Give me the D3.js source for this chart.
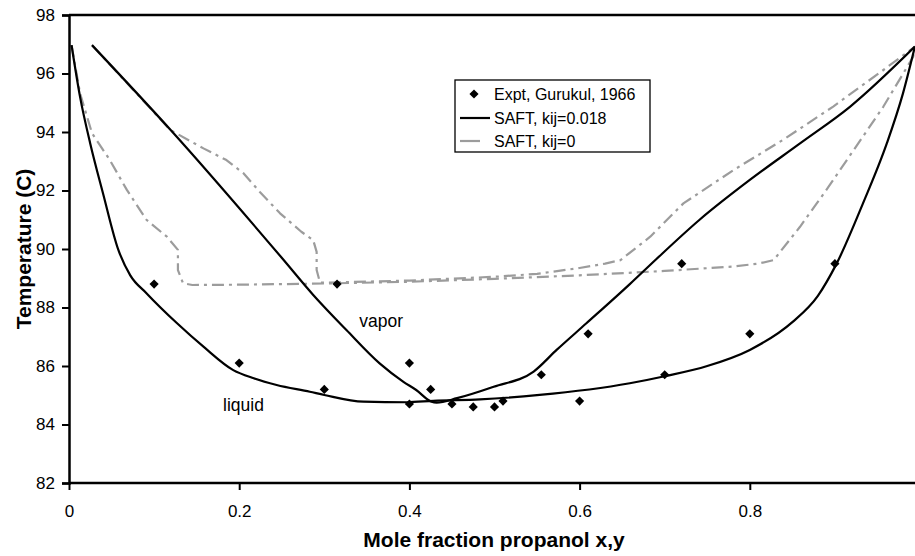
<!DOCTYPE html>
<html>
<head>
<meta charset="utf-8">
<script src="https://cdn.jsdelivr.net/npm/d3@7"></script>
<style>
  html, body { margin: 0; padding: 0; background: #fff; }
  svg { display: block; font-family: "Liberation Sans", Arial, sans-serif; }
</style>
</head>
<body>
<svg id="chart" width="915" height="556"></svg>
<script>
// ---------------- data ----------------
const xTicks = [0, 0.2, 0.4, 0.6, 0.8];
const yTicks = [82, 84, 86, 88, 90, 92, 94, 96, 98];

// Experimental points (Gurukul, 1966)
const exptX = [0.10, 0.20, 0.30, 0.40, 0.475, 0.51, 0.555, 0.61, 0.72,
               0.315, 0.40, 0.425, 0.45, 0.50, 0.60, 0.70, 0.80, 0.90];
const exptT = [88.8, 86.1, 85.2, 84.7, 84.6, 84.8, 85.7, 87.1, 89.5,
               88.8, 86.1, 85.2, 84.7, 84.6, 84.8, 85.7, 87.1, 89.5];

// SAFT kij=0.018, liquid branch
const liqX018 = [0.003, 0.013, 0.025, 0.040, 0.058, 0.072, 0.091, 0.127, 0.158, 0.193, 0.217,
                 0.244, 0.283, 0.300, 0.346, 0.397, 0.428, 0.483, 0.553, 0.659, 0.700, 0.750,
                 0.800, 0.850, 0.880, 0.902, 0.933, 0.961, 0.980, 0.994];
const liqT018 = [96.97, 95.2, 93.6, 91.9, 89.97, 89.1, 88.49, 87.46, 86.66, 85.86, 85.58,
                 85.35, 85.12, 85.01, 84.78, 84.76, 84.81, 84.86, 85.01, 85.41, 85.65, 86.0,
                 86.55, 87.5, 88.4, 89.5, 91.56, 93.61, 95.32, 96.92];
// SAFT kij=0.018, vapor branch
const vapX018 = [0.027, 0.120, 0.250, 0.287, 0.326, 0.365, 0.393, 0.408, 0.426, 0.432, 0.456,
                 0.499, 0.546, 0.573, 0.608, 0.659, 0.690, 0.741, 0.800, 0.859, 0.918, 0.994];
const vapT018 = [96.97, 94.05, 89.7, 88.43, 87.23, 86.09, 85.46, 85.18, 84.78, 84.75, 84.9,
                 85.29, 85.81, 86.55, 87.46, 88.8, 89.65, 91.0, 92.36, 93.61, 94.87, 96.92];

// SAFT kij=0, liquid branch
const liqX0 = [0.003, 0.013, 0.027, 0.048, 0.068, 0.091, 0.115, 0.128, 0.128, 0.134, 0.145,
               0.20, 0.30, 0.40, 0.50, 0.60, 0.70, 0.78, 0.81, 0.828, 0.859, 0.890, 0.922,
               0.957, 0.992, 0.994];
const liqT0 = [96.97, 95.32, 93.96, 93.04, 92.02, 91.0, 90.42, 89.97, 89.28, 88.83, 88.77,
               88.78, 88.82, 88.88, 88.98, 89.1, 89.25, 89.4, 89.5, 89.62, 90.76, 92.02, 93.38,
               94.87, 96.57, 96.92];
// SAFT kij=0, vapor branch
const vapX0 = [0.027, 0.119, 0.158, 0.185, 0.205, 0.224, 0.248, 0.273, 0.287, 0.291, 0.291,
               0.295, 0.30, 0.40, 0.50, 0.55, 0.60, 0.63, 0.648, 0.683, 0.722, 0.781, 0.839,
               0.898, 0.957, 0.994];
const vapT0 = [96.97, 94.07, 93.44, 93.04, 92.59, 91.96, 91.22, 90.59, 90.3, 89.9, 89.28,
               88.85, 88.85, 88.92, 89.05, 89.15, 89.35, 89.5, 89.62, 90.42, 91.56, 92.7, 93.73,
               94.87, 96.12, 96.92];

const legendLabels = ["Expt, Gurukul, 1966", "SAFT, kij=0.018", "SAFT, kij=0"];
const annotations = [{text: "vapor", x: 0.341, t: 87.35}, {text: "liquid", x: 0.181, t: 84.47}];

// ---------------- drawing ----------------
const svg = d3.select("#chart");
const x = d3.scaleLinear().domain([0, 1]).range([69, 920]);
const y = d3.scaleLinear().domain([82, 98]).range([483, 15]);

svg.append("rect").attr("width", 915).attr("height", 556).attr("fill", "#fff");

const lineLin = d3.line().x(d => x(d[0])).y(d => y(d[1])).curve(d3.curveLinear);
const lineSmooth = d3.line().x(d => x(d[0])).y(d => y(d[1])).curve(d3.curveMonotoneX);
const zip = (a, b) => a.map((v, i) => [v, b[i]]);

// kij=0 (gray dash-dot)
[[liqX0, liqT0], [vapX0, vapT0]].forEach(([xs, ts]) => {
  svg.append("path").datum(zip(xs, ts))
    .attr("d", lineLin).attr("fill", "none")
    .attr("stroke", "#9c9c9c").attr("stroke-width", 2.2)
    .attr("stroke-dasharray", "12,5,3,5")
    .attr("stroke-linejoin", "round");
});
// kij=0.018 (black solid)
[[liqX018, liqT018], [vapX018, vapT018]].forEach(([xs, ts]) => {
  svg.append("path").datum(zip(xs, ts))
    .attr("d", lineSmooth).attr("fill", "none")
    .attr("stroke", "#000").attr("stroke-width", 2.2)
    .attr("stroke-linejoin", "round");
});

// axes
const gx = svg.append("g").attr("transform", `translate(0,${y(82)})`)
  .call(d3.axisBottom(x).tickValues(xTicks).tickSize(7).tickPadding(15)
        .tickFormat(d => d === 0 ? "0" : d3.format(".1f")(d)));
const gy = svg.append("g").attr("transform", `translate(${x(0)},0)`)
  .call(d3.axisLeft(y).tickValues(yTicks).tickSize(7).tickPadding(7));
[gx, gy].forEach(g => {
  g.select(".domain").attr("stroke", "#000").attr("stroke-width", 2.5);
  g.selectAll(".tick line").attr("stroke", "#000").attr("stroke-width", 2);
  g.selectAll(".tick text").attr("fill", "#000").style("font-size", "17px")
    .style("font-family", "'Liberation Sans', Arial, sans-serif");
});
gx.select(".domain").attr("d", `M${x(0)},0H915`);
// top border
svg.append("line").attr("x1", x(0)).attr("x2", 915).attr("y1", y(98)).attr("y2", y(98))
  .attr("stroke", "#000").attr("stroke-width", 2.5);

// experimental diamonds
const diamond = d3.symbol().type(d3.symbolSquare).size(42);
svg.append("g").selectAll("path").data(zip(exptX, exptT)).join("path")
  .attr("d", diamond)
  .attr("transform", d => `translate(${x(d[0])},${y(d[1])}) rotate(45)`)
  .attr("fill", "#000");

// annotations
svg.selectAll("text.ann").data(annotations).join("text").attr("class", "ann")
  .attr("x", d => x(d.x)).attr("y", d => y(d.t))
  .style("font-size", "17.5px").attr("fill", "#000").text(d => d.text);

// axis titles
svg.append("text").attr("x", 494).attr("y", 547).attr("text-anchor", "middle")
  .style("font-size", "21px").style("font-weight", "bold")
  .text("Mole fraction propanol x,y");
svg.append("text").attr("transform", "translate(31,249) rotate(-90)")
  .attr("text-anchor", "middle")
  .style("font-size", "21px").style("font-weight", "bold")
  .text("Temperature (C)");

// legend
const lg = svg.append("g");
lg.append("rect").attr("x", 455).attr("y", 80).attr("width", 195).attr("height", 72)
  .attr("fill", "#fff").attr("stroke", "#000").attr("stroke-width", 1.3);
const rowY = [94, 118, 141];
lg.append("path").attr("d", diamond)
  .attr("transform", `translate(474,${rowY[0]}) rotate(45)`).attr("fill", "#000");
lg.append("line").attr("x1", 460).attr("x2", 490).attr("y1", rowY[1]).attr("y2", rowY[1])
  .attr("stroke", "#000").attr("stroke-width", 2.2);
lg.append("line").attr("x1", 460).attr("x2", 480).attr("y1", rowY[2]).attr("y2", rowY[2])
  .attr("stroke", "#9c9c9c").attr("stroke-width", 2.2);
lg.selectAll("text").data(legendLabels).join("text")
  .attr("x", 494).attr("y", (d, i) => rowY[i]).attr("dy", "0.35em")
  .style("font-size", "16px").attr("fill", "#000").text(d => d);
</script>
</body>
</html>
